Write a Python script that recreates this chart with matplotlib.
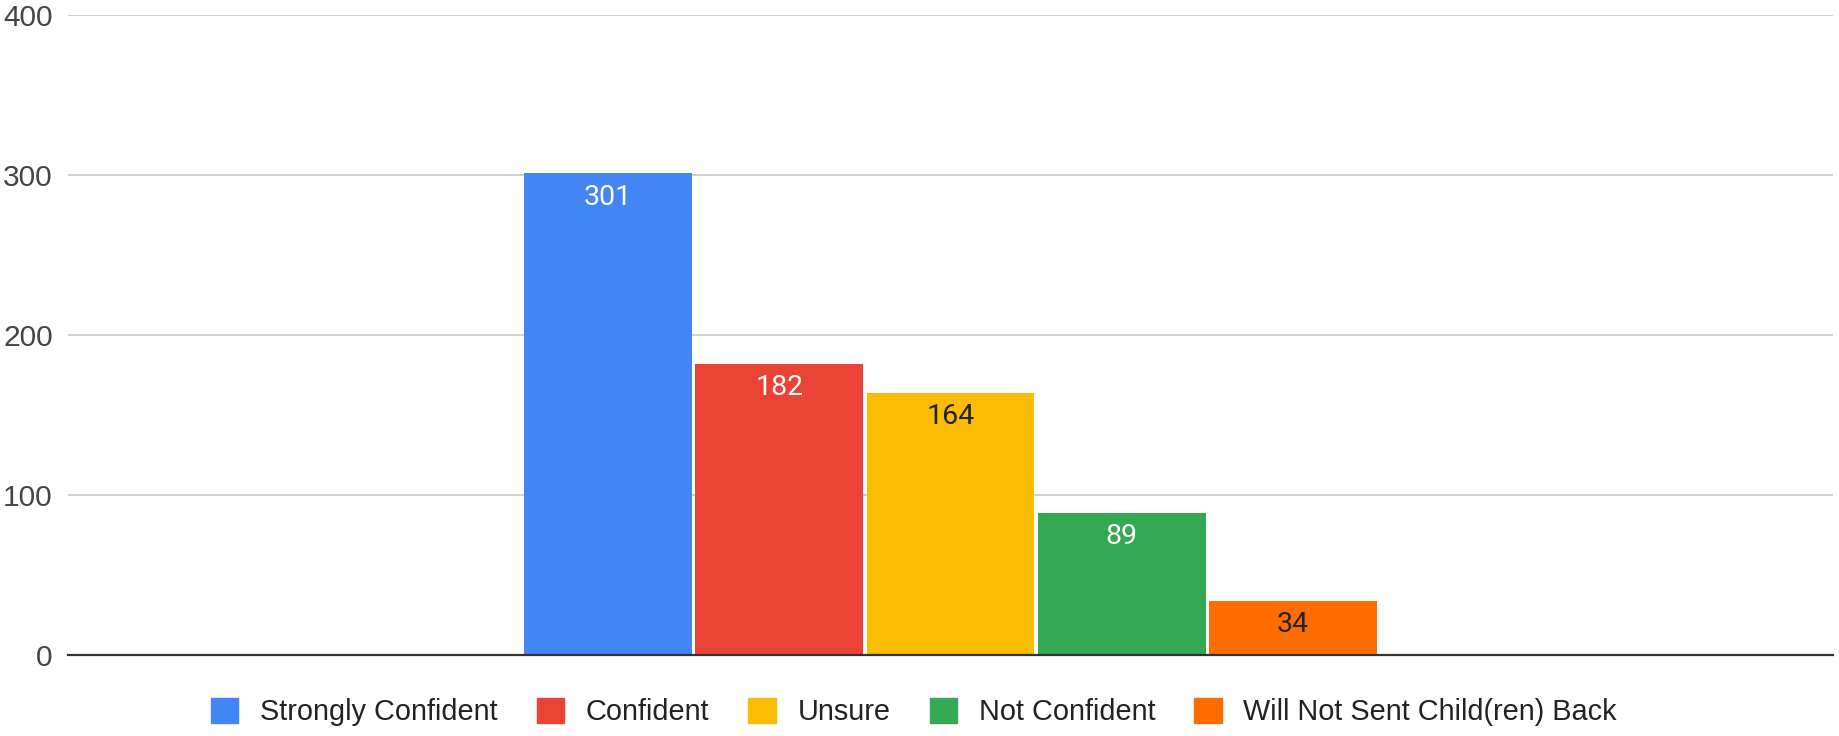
import numpy as np
import matplotlib.pyplot as plt
from matplotlib.patches import Patch

plt.rcParams['font.family'] = ['Liberation Sans', 'DejaVu Sans']

categories = ["Strongly Confident", "Confident", "Unsure", "Not Confident",
              "Will Not Sent Child(ren) Back"]
counts = [301, 182, 164, 89, 34]
colors = ["#4285F4", "#EA4335", "#FBBC04", "#34A853", "#FF6D01"]
label_colors = ["white", "white", "#222222", "white", "#222222"]
y_ticks = [0, 100, 200, 300, 400]

fig = plt.figure(figsize=(18.39, 7.36), dpi=100)
ax = fig.add_axes([0.037, 0.110, 0.9597, 0.8696])

# one category, five series side by side
pitch = 0.097
width = 0.095
n = len(counts)
offsets = (np.arange(n) - (n - 1) / 2) * pitch
bars = ax.bar(offsets, counts, width=width, color=colors, zorder=3)

for b, v, lc in zip(bars, counts, label_colors):
    ax.annotate(str(v), (b.get_x() + b.get_width() / 2, v),
                xytext=(0, -17), textcoords="offset points",
                ha="center", va="center", fontsize=20.5, color=lc, zorder=4,
                family=["Roboto", "DejaVu Sans"])

ax.set_xlim(-0.5, 0.5)
ax.set_ylim(0, 400)
ax.set_yticks(y_ticks)
ax.set_xticks([])
ax.yaxis.grid(True, color="#cccccc", linewidth=1.3, zorder=0)
ax.tick_params(axis="y", length=0, pad=11, labelsize=21.5, labelcolor="#444444")
for s in ["top", "right", "left"]:
    ax.spines[s].set_visible(False)
ax.spines["bottom"].set_color("#333333")
ax.spines["bottom"].set_linewidth(1.6)
ax.spines["bottom"].set_zorder(5)

handles = [Patch(facecolor=c, edgecolor=c, linewidth=1, joinstyle="round") for c in colors]
fig.legend(handles, categories, loc="center", bbox_to_anchor=(0.497, 1 - 712 / 736),
           ncol=5, frameon=False, fontsize=20.8, labelcolor="#222222",
           handlelength=0.95, handleheight=0.95, handletextpad=0.75, columnspacing=1.35)

fig.savefig("out.png", dpi=100)
